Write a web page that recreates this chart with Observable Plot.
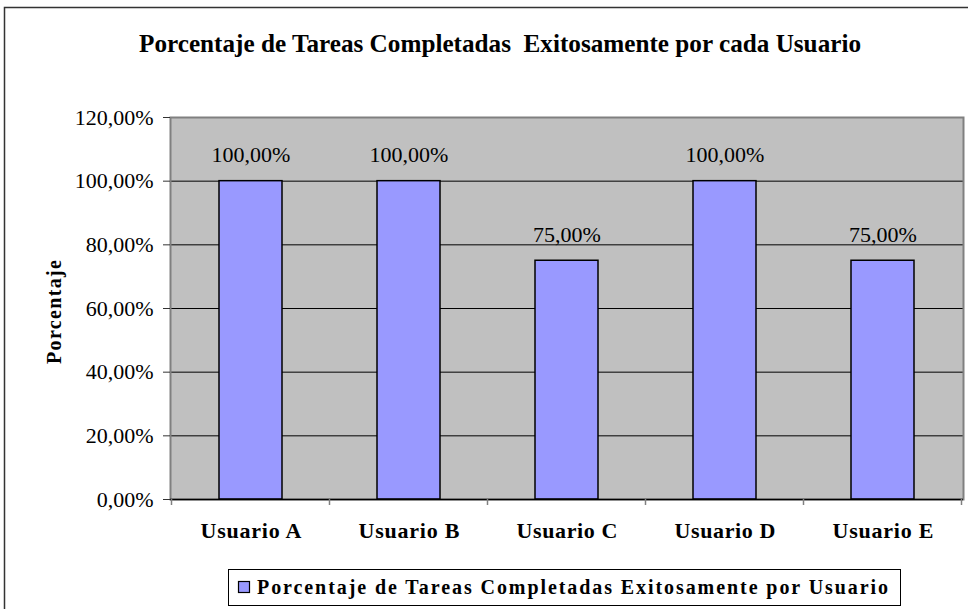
<!DOCTYPE html>
<html>
<head>
<meta charset="utf-8">
<script src="https://cdn.jsdelivr.net/npm/d3@7"></script>
<script src="https://cdn.jsdelivr.net/npm/@observablehq/plot@0.6"></script>
<style>
  html, body { margin: 0; padding: 0; background: #fff; }
  #chart { width: 968px; height: 609px; overflow: hidden; }
</style>
</head>
<body>
<div id="chart"></div>
<script>
const users = ["Usuario A", "Usuario B", "Usuario C", "Usuario D", "Usuario E"];
const values = [100, 100, 75, 100, 75];
const yTicks = [0, 20, 40, 60, 80, 100, 120];
const gridTicks = [20, 40, 60, 80, 100];
const titleText = "Porcentaje de Tareas Completadas  Exitosamente por cada Usuario";
const yLabel = "Porcentaje";
const legendLabel = "Porcentaje de Tareas Completadas Exitosamente por Usuario";

const data = users.map((u, i) => ({user: u, value: values[i]}));
const fmt = v => v.toFixed(2).replace(".", ",") + "%";

const serif = "'Liberation Serif', 'Times New Roman', serif";
const barFill = "#9999FF";

const plot = Plot.plot({
  width: 968,
  height: 609,
  marginLeft: 170,
  marginRight: 5,
  marginTop: 117,
  marginBottom: 110,
  style: {fontFamily: serif, fontSize: "22px", background: "white", color: "#000"},
  x: {domain: users, paddingInner: 0.6, paddingOuter: 0.3, axis: null},
  y: {domain: [0, 120], axis: null},
  marks: [
    Plot.frame({fill: "#C0C0C0"}),
    Plot.ruleY(gridTicks, {stroke: "#000", strokeWidth: 1}),
    Plot.frame({stroke: "#808080", strokeWidth: 2}),
    Plot.barY(data, {x: "user", y: "value", fill: barFill, stroke: "#000", strokeWidth: 1.5}),
    Plot.ruleY([0], {stroke: "#000", strokeWidth: 1.5}),
    Plot.axisY({ticks: yTicks, tickFormat: fmt, tickSize: 7, tickPadding: 10, fontSize: 22, stroke: "#333", label: null}),
    Plot.text(data, {x: "user", y: "value", text: d => fmt(d.value), dy: -19, lineAnchor: "bottom", fontSize: 22, fill: "#000"}),
    Plot.text(users, {x: d => d, text: d => d, frameAnchor: "bottom", dy: 38, lineAnchor: "bottom", fontWeight: "bold", fontSize: 22, fill: "#000"})
  ]
});

document.getElementById("chart").appendChild(plot);

const svg = d3.select(plot);
const xs = plot.scale("x");
const ys = plot.scale("y");
const y0 = ys.apply(0);
const step = xs.step;
const bw = xs.bandwidth;

// stretch x labels like the original
svg.selectAll("text")
  .filter(function() { return users.includes(this.textContent); })
  .attr("textLength", 101)
  .attr("lengthAdjust", "spacing");

// category boundary ticks below the axis
const bounds = users.map(u => xs.apply(u) - (step - bw) / 2);
bounds.push(bounds[bounds.length - 1] + step);
svg.append("g")
  .selectAll("line")
  .data(bounds)
  .join("line")
  .attr("x1", d => d).attr("x2", d => d)
  .attr("y1", y0).attr("y2", y0 + 6)
  .attr("stroke", "#808080").attr("stroke-width", 1.5);

// outer chart border
svg.append("rect")
  .attr("x", 4.5).attr("y", 7.5)
  .attr("width", 1000).attr("height", 700)
  .attr("fill", "none").attr("stroke", "#333").attr("stroke-width", 1.5);

// title
svg.append("text")
  .attr("x", 500).attr("y", 52)
  .attr("text-anchor", "middle")
  .attr("font-family", serif)
  .attr("font-weight", "bold")
  .attr("font-size", 26)
  .attr("textLength", 722)
  .attr("lengthAdjust", "spacingAndGlyphs")
  .style("white-space", "pre")
  .text(titleText);

// y axis label
svg.append("text")
  .attr("transform", "translate(61,312) rotate(-90)")
  .attr("text-anchor", "middle")
  .attr("font-family", serif)
  .attr("font-weight", "bold")
  .attr("font-size", 20)
  .attr("textLength", 104)
  .attr("lengthAdjust", "spacing")
  .text(yLabel);

// legend
const lg = svg.append("g");
lg.append("rect")
  .attr("x", 228.5).attr("y", 569.5).attr("width", 672).attr("height", 36)
  .attr("fill", "white").attr("stroke", "#000").attr("stroke-width", 1);
lg.append("rect")
  .attr("x", 238.5).attr("y", 581.5).attr("width", 11).attr("height", 11)
  .attr("fill", barFill).attr("stroke", "#000").attr("stroke-width", 1.2);
lg.append("text")
  .attr("x", 257).attr("y", 594)
  .attr("text-anchor", "start")
  .attr("font-family", serif)
  .attr("font-weight", "bold")
  .attr("font-size", 20)
  .attr("textLength", 631)
  .attr("lengthAdjust", "spacing")
  .text(legendLabel);
</script>
</body>
</html>
